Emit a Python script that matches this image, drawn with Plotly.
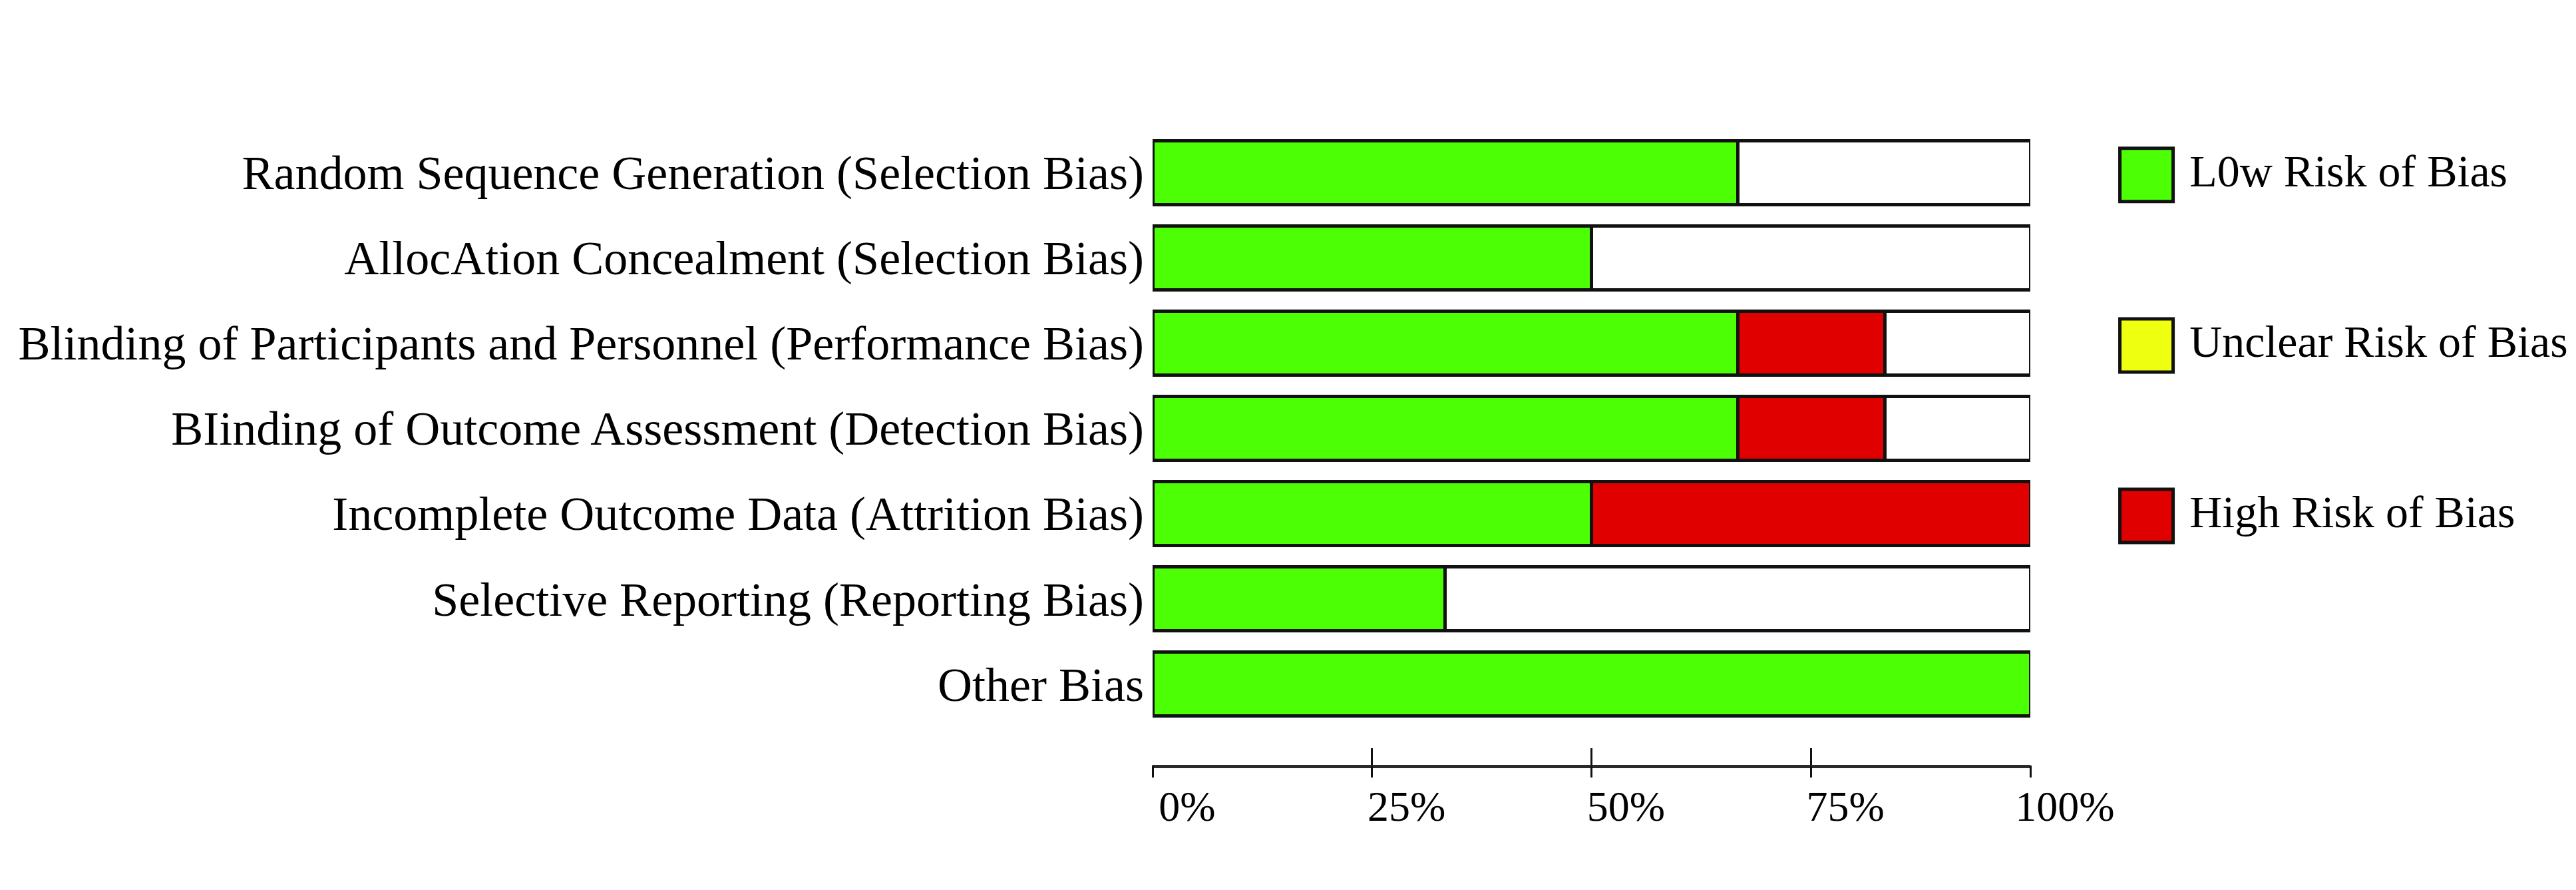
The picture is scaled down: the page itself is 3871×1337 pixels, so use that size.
import plotly.graph_objects as go

categories = [
    "Random Sequence Generation (Selection Bias)",
    "AllocAtion Concealment (Selection Bias)",
    "Blinding of Participants and Personnel (Performance Bias)",
    "BIinding of Outcome Assessment (Detection Bias)",
    "Incomplete Outcome Data (Attrition Bias)",
    "Selective Reporting (Reporting Bias)",
    "Other Bias",
]
low_risk = [66.7, 50.0, 66.7, 66.7, 50.0, 33.3, 100.0]
high_risk = [0, 0, 16.7, 16.7, 50.0, 0, 0]
unclear_risk = [33.3, 50.0, 16.6, 16.6, 0, 66.7, 0]

tick_vals = [0, 25, 50, 75, 100]
tick_text = ["0%", "25%", "50%", "75%", "100%"]

legend_labels = ["L0w Risk of Bias", "Unclear Risk of Bias", "High Risk of Bias"]
legend_colors = ["#4DFF05", "#EEFF10", "#E00000"]

GREEN, RED, WHITE = "#4DFF05", "#E00000", "#FFFFFF"
FONT = "Liberation Serif"
W, H = 3871, 1337
OFF = 8  # page body margin

ypos = list(range(len(categories)))

fig = go.Figure()
line = dict(color="#111111", width=5)
for vals, col in ((low_risk, GREEN), (high_risk, RED), (unclear_risk, WHITE)):
    fig.add_trace(go.Bar(y=ypos, x=vals, orientation="h", marker=dict(color=col, line=line),
                         width=0.75, showlegend=False, hoverinfo="x"))

# secondary axis to draw the lower half of the crossing tick marks
fig.add_trace(go.Scatter(x=[None], y=[None], xaxis="x2", yaxis="y", showlegend=False))

# custom legend drawn as large square markers
fig.add_trace(go.Scatter(
    x=[0] * len(legend_labels),
    y=[2 * i for i in range(len(legend_labels))],
    xaxis="x3", yaxis="y3",
    mode="markers+text",
    marker=dict(symbol="square", size=80, color=legend_colors, line=dict(color="#111111", width=5)),
    text=["\u2009" + t for t in legend_labels], textposition="middle right",
    textfont=dict(family=FONT, size=68, color="#000000"),
    showlegend=False, hoverinfo="text",
))

x_dom = [(1732 - OFF) / W, (3051 - OFF) / W]
y_dom = [1 - (1149 - OFF) / H, 1 - (195 - OFF) / H]
y_range = [6.95, -0.5]

fig.update_layout(
    width=W, height=H,
    margin=dict(l=0, r=0, t=0, b=0, autoexpand=False),
    paper_bgcolor="white", plot_bgcolor="white",
    barmode="stack",
    showlegend=False,
    font=dict(family=FONT, color="#000000"),
    xaxis=dict(domain=x_dom, range=[0, 100], tickvals=tick_vals, ticktext=tick_text,
               ticks="inside", ticklen=25, tickwidth=3, tickcolor="#111111",
               showline=True, linecolor="#2a2a2a", linewidth=5, showgrid=False, zeroline=False,
               tickfont=dict(family=FONT, size=64, color="#000000"), anchor="y",
               ticklabelshift=52, ticklabelstandoff=2, automargin=False),
    xaxis2=dict(domain=x_dom, range=[0, 100], overlaying="x", anchor="y", side="bottom",
                tickvals=tick_vals, ticks="outside", ticklen=18, tickwidth=3, tickcolor="#111111",
                showticklabels=False, showline=False, showgrid=False, zeroline=False,
                automargin=False),
    yaxis=dict(domain=y_dom, range=y_range, tickvals=ypos, ticktext=categories,
               showline=False, showgrid=False, zeroline=False, ticks="",
               tickfont=dict(family=FONT, size=72, color="#000000"), anchor="x",
               ticklabelstandoff=12, automargin=False),
    xaxis3=dict(domain=[0.8, 1.0], range=[-0.156, 0.844], visible=False, anchor="y3",
                automargin=False),
    yaxis3=dict(domain=y_dom, range=[6.95 - 0.03, -0.5 - 0.03], visible=False, anchor="x3",
                automargin=False),
)

fig.write_html("out.html")
